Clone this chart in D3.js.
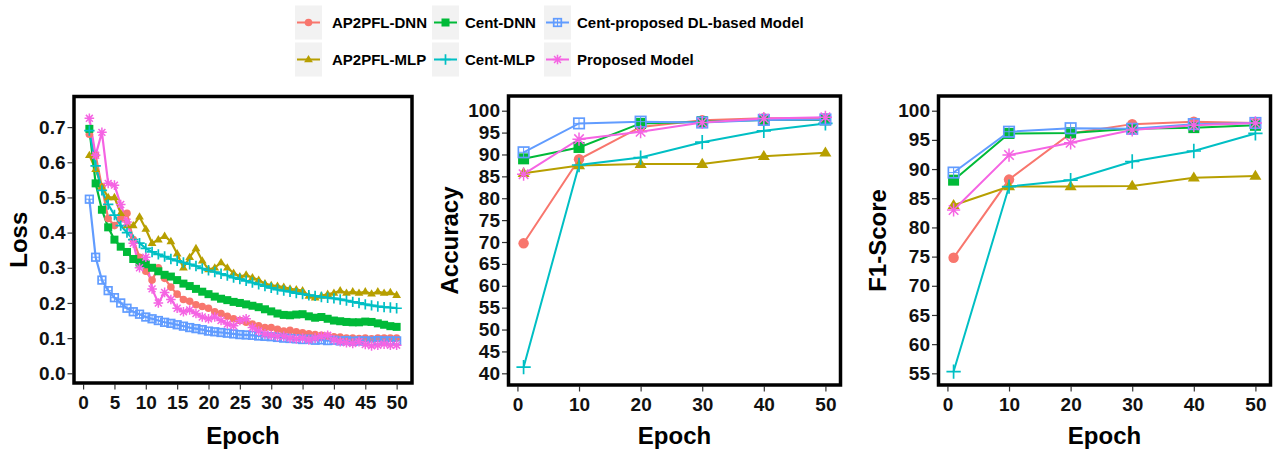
<!DOCTYPE html>
<html lang="en">
<head>
    <meta charset="UTF-8">
    <title>Loss / Accuracy / F1-Score</title>
    <script src="https://cdn.jsdelivr.net/npm/d3@7/dist/d3.min.js"></script>
    <style>
        body { margin: 0; background: #fff; }
        text { font-family: "Liberation Sans", Arial, sans-serif; }
    </style>
</head>
<body>
</body>
<script>
    // ---- data ----
    var models = ['AP2PFL-DNN', 'AP2PFL-MLP', 'Cent-DNN', 'Cent-MLP', 'Cent-proposed DL-based Model', 'Proposed Model'];
    var colors = ['#F8766D', '#B79F00', '#00BA38', '#00BFC4', '#619CFF', '#F564E3'];
    var shapes = ['circle', 'triangle', 'square', 'plus', 'squarePlus', 'asterisk'];

    var epochs = d3.range(1, 51);
    var evalEpochs = [1, 10, 20, 30, 40, 50];

    var lossAP2PFLDNN = [0.68, 0.62, 0.53, 0.44, 0.42, 0.44, 0.455, 0.38, 0.33, 0.29,
        0.265, 0.30, 0.27, 0.245, 0.225, 0.21, 0.205, 0.195, 0.19, 0.185,
        0.175, 0.17, 0.162, 0.155, 0.15, 0.145, 0.14, 0.135, 0.13, 0.13,
        0.125, 0.12, 0.122, 0.118, 0.115, 0.112, 0.11, 0.108, 0.106, 0.104,
        0.103, 0.10, 0.10, 0.099, 0.10, 0.098, 0.10, 0.10, 0.10, 0.10];
    var lossAP2PFLMLP = [0.62, 0.58, 0.53, 0.50, 0.50, 0.455, 0.42, 0.42, 0.445, 0.41,
        0.37, 0.38, 0.39, 0.375, 0.34, 0.30, 0.33, 0.355, 0.32, 0.295,
        0.30, 0.315, 0.30, 0.285, 0.275, 0.28, 0.272, 0.265, 0.255, 0.25,
        0.248, 0.245, 0.24, 0.238, 0.235, 0.22, 0.215, 0.22, 0.225, 0.228,
        0.235, 0.228, 0.232, 0.228, 0.232, 0.226, 0.232, 0.228, 0.23, 0.222];
    var lossCentDNN = [0.695, 0.54, 0.465, 0.415, 0.38, 0.36, 0.345, 0.325, 0.315, 0.31,
        0.30, 0.29, 0.28, 0.275, 0.265, 0.255, 0.248, 0.24, 0.232, 0.225,
        0.218, 0.212, 0.208, 0.203, 0.20, 0.196, 0.192, 0.188, 0.182, 0.176,
        0.17, 0.166, 0.165, 0.167, 0.168, 0.162, 0.158, 0.16, 0.155, 0.15,
        0.148, 0.146, 0.145, 0.145, 0.147, 0.146, 0.142, 0.138, 0.134, 0.132];
    var lossCentMLP = [0.69, 0.59, 0.52, 0.48, 0.45, 0.42, 0.40, 0.38, 0.37, 0.355,
        0.345, 0.338, 0.332, 0.325, 0.32, 0.315, 0.31, 0.305, 0.298, 0.293,
        0.288, 0.283, 0.278, 0.272, 0.268, 0.263, 0.258, 0.253, 0.248, 0.243,
        0.238, 0.235, 0.232, 0.228, 0.225, 0.222, 0.22, 0.217, 0.215, 0.213,
        0.21, 0.207, 0.203, 0.20, 0.196, 0.193, 0.19, 0.188, 0.187, 0.185];
    var lossCentProposed = [0.495, 0.33, 0.265, 0.235, 0.215, 0.20, 0.185, 0.175, 0.168, 0.16,
        0.155, 0.15, 0.145, 0.142, 0.138, 0.134, 0.13, 0.127, 0.124, 0.12,
        0.118, 0.116, 0.114, 0.112, 0.11, 0.109, 0.108, 0.106, 0.105, 0.104,
        0.102, 0.10, 0.099, 0.098, 0.096, 0.097, 0.094, 0.095, 0.093, 0.094,
        0.092, 0.093, 0.091, 0.092, 0.092, 0.091, 0.093, 0.092, 0.092, 0.092];
    var lossProposed = [0.725, 0.62, 0.685, 0.54, 0.535, 0.48, 0.43, 0.37, 0.30, 0.33,
        0.24, 0.20, 0.23, 0.21, 0.185, 0.175, 0.18, 0.17, 0.16, 0.155,
        0.16, 0.15, 0.14, 0.135, 0.15, 0.155, 0.13, 0.12, 0.112, 0.108,
        0.105, 0.105, 0.10, 0.098, 0.10, 0.095, 0.10, 0.105, 0.108, 0.095,
        0.09, 0.087, 0.085, 0.09, 0.082, 0.078, 0.08, 0.083, 0.08, 0.08];

    var accAP2PFLDNN = [69.7, 88.9, 96.3, 97.8, 98.3, 98.3];
    var accAP2PFLMLP = [85.7, 87.5, 87.8, 87.8, 89.6, 90.4];
    var accCentDNN = [89.0, 91.6, 97.1, 97.5, 97.9, 97.9];
    var accCentMLP = [41.4, 87.6, 89.3, 92.8, 95.4, 97.1];
    var accCentProposed = [90.5, 97.1, 97.5, 97.3, 97.9, 98.0];
    var accProposed = [85.5, 93.5, 95.2, 97.3, 98.2, 98.5];

    var f1AP2PFLDNN = [74.8, 88.2, 96.1, 97.7, 98.1, 97.9];
    var f1AP2PFLMLP = [83.8, 87.0, 87.0, 87.1, 88.5, 88.8];
    var f1CentDNN = [88.1, 96.1, 96.2, 96.9, 97.1, 97.5];
    var f1CentMLP = [55.3, 87.0, 88.1, 91.3, 93.1, 96.1];
    var f1CentProposed = [89.4, 96.4, 97.0, 96.9, 97.7, 97.9];
    var f1Proposed = [83.0, 92.4, 94.5, 96.7, 97.5, 97.9];

    var lossTicksX = d3.range(0, 51, 5);
    var lossTicksY = [0, 0.1, 0.2, 0.3, 0.4, 0.5, 0.6, 0.7];
    var evalTicksX = [0, 10, 20, 30, 40, 50];
    var accTicksY = d3.range(40, 101, 5);
    var f1TicksY = d3.range(55, 101, 5);

    // ---- layout ----
    var width = 1276, height = 450;
    var svg = d3.select('body').append('svg')
        .attr('width', width)
        .attr('height', height);

    var panels = [
        {title: 'Loss', x: epochs, series: [lossAP2PFLDNN, lossAP2PFLMLP, lossCentDNN, lossCentMLP, lossCentProposed, lossProposed],
            box: [74, 412, 96.5, 383], yDomain: [-0.0276, 0.787], xTicks: lossTicksX, yTicks: lossTicksY,
            fmt: d3.format('.1f'), titleX: 19, mSize: 8, lw: 2.2},
        {title: 'Accuracy', x: evalEpochs, series: [accAP2PFLDNN, accAP2PFLMLP, accCentDNN, accCentMLP, accCentProposed, accProposed],
            box: [508.5, 840.5, 96, 385], yDomain: [37.33, 103.36], xTicks: evalTicksX, yTicks: accTicksY,
            fmt: d3.format('d'), titleX: 450, mSize: 11, lw: 2},
        {title: 'F1-Score', x: evalEpochs, series: [f1AP2PFLDNN, f1AP2PFLMLP, f1CentDNN, f1CentMLP, f1CentProposed, f1Proposed],
            box: [938.5, 1270.5, 96, 385], yDomain: [53.0, 102.52], xTicks: evalTicksX, yTicks: f1TicksY,
            fmt: d3.format('d'), titleX: 878, mSize: 11, lw: 2}
    ];

    // draw one marker at (0,0) inside group g
    function marker(g, shape, s, color) {
        var h = s / 2;
        if (shape === 'circle') {
            g.append('circle').attr('r', h * 0.95).attr('fill', color);
        } else if (shape === 'triangle') {
            var r = h * 1.15;
            g.append('path')
                .attr('d', 'M0,' + (-r) + 'L' + (r * 0.95) + ',' + (r * 0.6) + 'L' + (-r * 0.95) + ',' + (r * 0.6) + 'Z')
                .attr('fill', color);
        } else if (shape === 'square') {
            g.append('rect').attr('x', -h).attr('y', -h).attr('width', s).attr('height', s).attr('fill', color);
        } else if (shape === 'plus') {
            var p = h * 1.3;
            g.append('path').attr('d', 'M' + (-p) + ',0H' + p + 'M0,' + (-p) + 'V' + p)
                .attr('stroke', color).attr('stroke-width', 1.7).attr('fill', 'none');
        } else if (shape === 'squarePlus') {
            var q = h * 0.95;
            g.append('rect').attr('x', -q).attr('y', -q).attr('width', 2 * q).attr('height', 2 * q)
                .attr('fill', 'none').attr('stroke', color).attr('stroke-width', 1.7);
            g.append('path').attr('d', 'M' + (-q) + ',0H' + q + 'M0,' + (-q) + 'V' + q)
                .attr('stroke', color).attr('stroke-width', 1).attr('fill', 'none');
        } else if (shape === 'asterisk') {
            var a = h * 1.2, d = a * 0.72;
            g.append('path')
                .attr('d', 'M' + (-a) + ',0H' + a + 'M0,' + (-a) + 'V' + a +
                    'M' + (-d) + ',' + (-d) + 'L' + d + ',' + d + 'M' + (-d) + ',' + d + 'L' + d + ',' + (-d))
                .attr('stroke', color).attr('stroke-width', 1.5).attr('fill', 'none');
        }
    }

    panels.forEach(function (p) {
        var x = d3.scaleLinear().domain([-1.45, 52.45]).range([p.box[0], p.box[1]]);
        var y = d3.scaleLinear().domain(p.yDomain).range([p.box[3], p.box[2]]);
        var g = svg.append('g');

        // axes
        var yAxis = g.append('g')
            .attr('transform', 'translate(' + (p.box[0] - 1.5) + ',0)')
            .call(d3.axisLeft(y).tickValues(p.yTicks).tickFormat(p.fmt).tickSize(5).tickPadding(2));
        var xAxis = g.append('g')
            .attr('transform', 'translate(0,' + (p.box[3] + 1.5) + ')')
            .call(d3.axisBottom(x).tickValues(p.xTicks).tickSize(5).tickPadding(6));
        [xAxis, yAxis].forEach(function (ax) {
            ax.select('.domain').remove();
            ax.selectAll('line').attr('stroke', '#333').attr('stroke-width', 1.2);
            ax.selectAll('text').attr('font-size', 19).attr('font-weight', 'bold').attr('fill', '#111');
        });

        // lines
        var line = d3.line().x(function (d) { return x(d[0]); }).y(function (d) { return y(d[1]); });
        p.series.forEach(function (vals, i) {
            g.append('path')
                .datum(p.x.map(function (e, k) { return [e, vals[k]]; }))
                .attr('d', line)
                .attr('fill', 'none')
                .attr('stroke', colors[i])
                .attr('stroke-width', p.lw);
        });
        // points
        p.series.forEach(function (vals, i) {
            p.x.forEach(function (e, k) {
                var m = g.append('g').attr('transform', 'translate(' + x(e) + ',' + y(vals[k]) + ')');
                marker(m, shapes[i], p.mSize, colors[i]);
            });
        });

        // panel border
        g.append('rect')
            .attr('x', p.box[0]).attr('y', p.box[2])
            .attr('width', p.box[1] - p.box[0]).attr('height', p.box[3] - p.box[2])
            .attr('fill', 'none').attr('stroke', '#000').attr('stroke-width', 3.5);

        // titles
        g.append('text')
            .attr('x', (p.box[0] + p.box[1]) / 2).attr('y', 444)
            .attr('text-anchor', 'middle')
            .attr('font-size', 24).attr('font-weight', 'bold')
            .text('Epoch');
        g.append('text')
            .attr('transform', 'translate(' + (p.titleX + 8) + ',' + ((p.box[2] + p.box[3]) / 2) + ') rotate(-90)')
            .attr('text-anchor', 'middle')
            .attr('font-size', 24).attr('font-weight', 'bold')
            .text(p.title);
    });

    // ---- legend ----
    var keyX = [295, 432, 544], textX = [332, 465, 577], rowY = [22.5, 59.5];
    models.forEach(function (name, i) {
        var col = Math.floor(i / 2), row = i % 2;
        var lg = svg.append('g');
        lg.append('rect')
            .attr('x', keyX[col]).attr('y', rowY[row] - 17)
            .attr('width', 27).attr('height', 34)
            .attr('fill', '#F2F2F2');
        lg.append('line')
            .attr('x1', keyX[col] + 2).attr('x2', keyX[col] + 25)
            .attr('y1', rowY[row]).attr('y2', rowY[row])
            .attr('stroke', colors[i]).attr('stroke-width', 2);
        var m = lg.append('g').attr('transform', 'translate(' + (keyX[col] + 13.5) + ',' + rowY[row] + ')');
        marker(m, shapes[i], 8, colors[i]);
        lg.append('text')
            .attr('x', textX[col]).attr('y', rowY[row])
            .attr('dy', '0.35em')
            .attr('font-size', 15).attr('font-weight', 'bold')
            .text(name);
    });
</script>
</html>
